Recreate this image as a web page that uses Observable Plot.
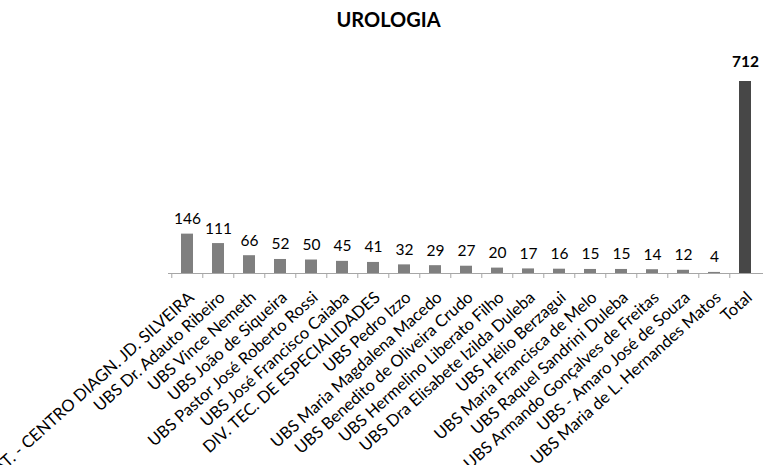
<!DOCTYPE html>
<html>
<head>
<meta charset="utf-8">
<script src="https://cdn.jsdelivr.net/npm/d3@7"></script>
<script src="https://cdn.jsdelivr.net/npm/@observablehq/plot@0.6"></script>
<style>
  html, body { margin: 0; padding: 0; background: #fff; }
  #title { width: 763px; height: 40px; box-sizing: border-box; padding-top: 9px; padding-left: 14px; text-align: center;
           font-family: Lato, "Open Sans", sans-serif; font-weight: bold; font-size: 20px; line-height: 20px; color: #000; }
  svg { display: block; }
</style>
</head>
<body>
<div id="title">UROLOGIA</div>
<div id="chart"></div>
<script>
const categories = [
  "AT. - CENTRO DIAGN. JD. SILVEIRA",
  "UBS Dr. Adauto Ribeiro",
  "UBS Vince Nemeth",
  "UBS João de Siqueira",
  "UBS Pastor José Roberto Rossi",
  "UBS José Francisco Caiaba",
  "DIV. TEC. DE ESPECIALIDADES",
  "UBS Pedro Izzo",
  "UBS Maria Magdalena Macedo",
  "UBS Benedito de Oliveira Crudo",
  "UBS Hermelino Liberato Filho",
  "UBS Dra Elisabete Izilda Duleba",
  "UBS Hélio Berzagui",
  "UBS Maria Francisca de Melo",
  "UBS Raquel Sandrini Duleba",
  "UBS Armando Gonçalves de Freitas",
  "UBS - Amaro José de Souza",
  "UBS Maria de L. Hernandes Matos",
  "Total"
];
const values = [146, 111, 66, 52, 50, 45, 41, 32, 29, 27, 20, 17, 16, 15, 15, 14, 12, 4, 712];

const data = categories.map((c, i) => ({cat: c, value: values[i]}));
const W = 763, ML = 168, MR = -2;
const bw = (W - ML - MR) / categories.length;
const font = "Lato, 'Open Sans', sans-serif";

const chart = Plot.plot({
  width: W,
  height: 425,
  marginLeft: ML,
  marginRight: MR,
  marginTop: 41,
  marginBottom: 192,
  style: {fontFamily: font, background: "#fff", color: "#000", overflow: "hidden"},
  x: {domain: categories, paddingInner: 0.61, paddingOuter: 0.305, axis: null},
  y: {domain: [0, 712], axis: null},
  color: {type: "identity"},
  marks: [
    Plot.ruleY([0], {stroke: "#a6a6a6", strokeWidth: 1}),
    Plot.ruleX(categories, {x: d => d, dx: -bw / 2, y1: 0, y2: 0, insetBottom: -5, stroke: "#a6a6a6"}),
    Plot.barY(data, {x: "cat", y: "value", fill: d => d.cat === "Total" ? "#474747" : "#7f7f7f"}),
    Plot.text(data.filter(d => d.cat !== "Total"), {x: "cat", y: "value", text: d => String(d.value), dy: -15, fontSize: 15.5, fill: "#000"}),
    Plot.text(data.filter(d => d.cat === "Total"), {x: "cat", y: "value", text: d => String(d.value), dy: -19, fontSize: 15.5, fontWeight: "bold", fill: "#000"}),
    Plot.text(categories, {x: d => d, y: 0, text: d => d, rotate: -42, textAnchor: "end", dx: 4, dy: 21.5, fontSize: 16.5, fill: "#000"})
  ]
});
document.getElementById("chart").appendChild(chart);
</script>
</body>
</html>
